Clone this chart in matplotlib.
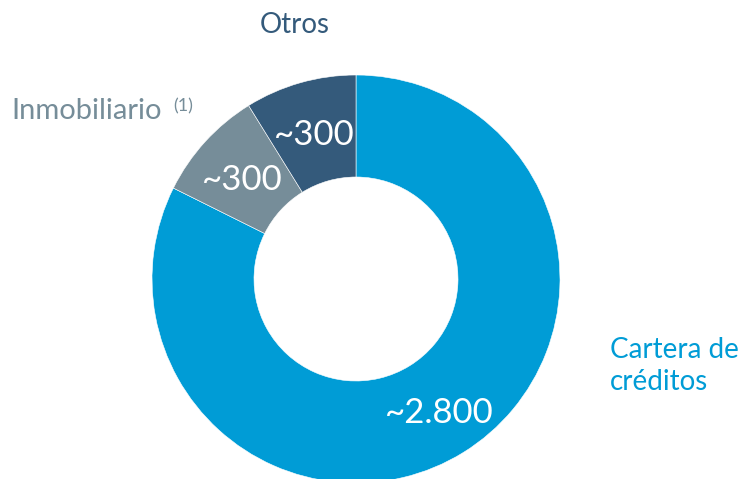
import matplotlib
matplotlib.use("Agg")
import matplotlib.pyplot as plt

categories = ["Cartera de\ncréditos", "Inmobiliario", "Otros"]
values = [2800, 300, 300]
value_labels = ["~2.800", "~300", "~300"]
colors = ["#009CD6", "#768D99", "#345A7B"]

W, H = 745, 479
fig = plt.figure(figsize=(W / 100, H / 100), dpi=100)
ax = fig.add_axes([0, 0, 1, 1])

FONT = "Lato"
cx, cy, R = 356, H - 279, 204
ax.pie(values, colors=colors, startangle=90, counterclock=False,
       center=(cx, cy), radius=R, frame=True,
       wedgeprops=dict(width=R * 0.5, edgecolor="white", linewidth=0.4))
ax.set_xlim(0, W)
ax.set_ylim(0, H)
ax.set_aspect("equal")
ax.axis("off")

def py(y):
    return H - y

# value labels (white, inside ring)
ax.text(439, py(413), value_labels[0], color="white", fontsize=25, family=FONT,
        ha="center", va="center")
ax.text(242, py(180), value_labels[1], color="white", fontsize=25, family=FONT,
        ha="center", va="center")
ax.text(314, py(135), value_labels[2], color="white", fontsize=25, family=FONT,
        ha="center", va="center")

# category labels
ax.text(295, py(25), categories[2], color=colors[2], fontsize=20, family=FONT,
        ha="center", va="center")
ax.text(11, py(111), categories[1], color=colors[1], fontsize=21, family=FONT,
        ha="left", va="center")
ax.text(173, py(106), "(1)", color=colors[1], fontsize=13, family=FONT,
        ha="left", va="center")
ax.text(610, py(366), categories[0], color=colors[0], fontsize=20, family=FONT,
        ha="left", va="center", linespacing=1.3)

fig.savefig("out.png", dpi=100)
